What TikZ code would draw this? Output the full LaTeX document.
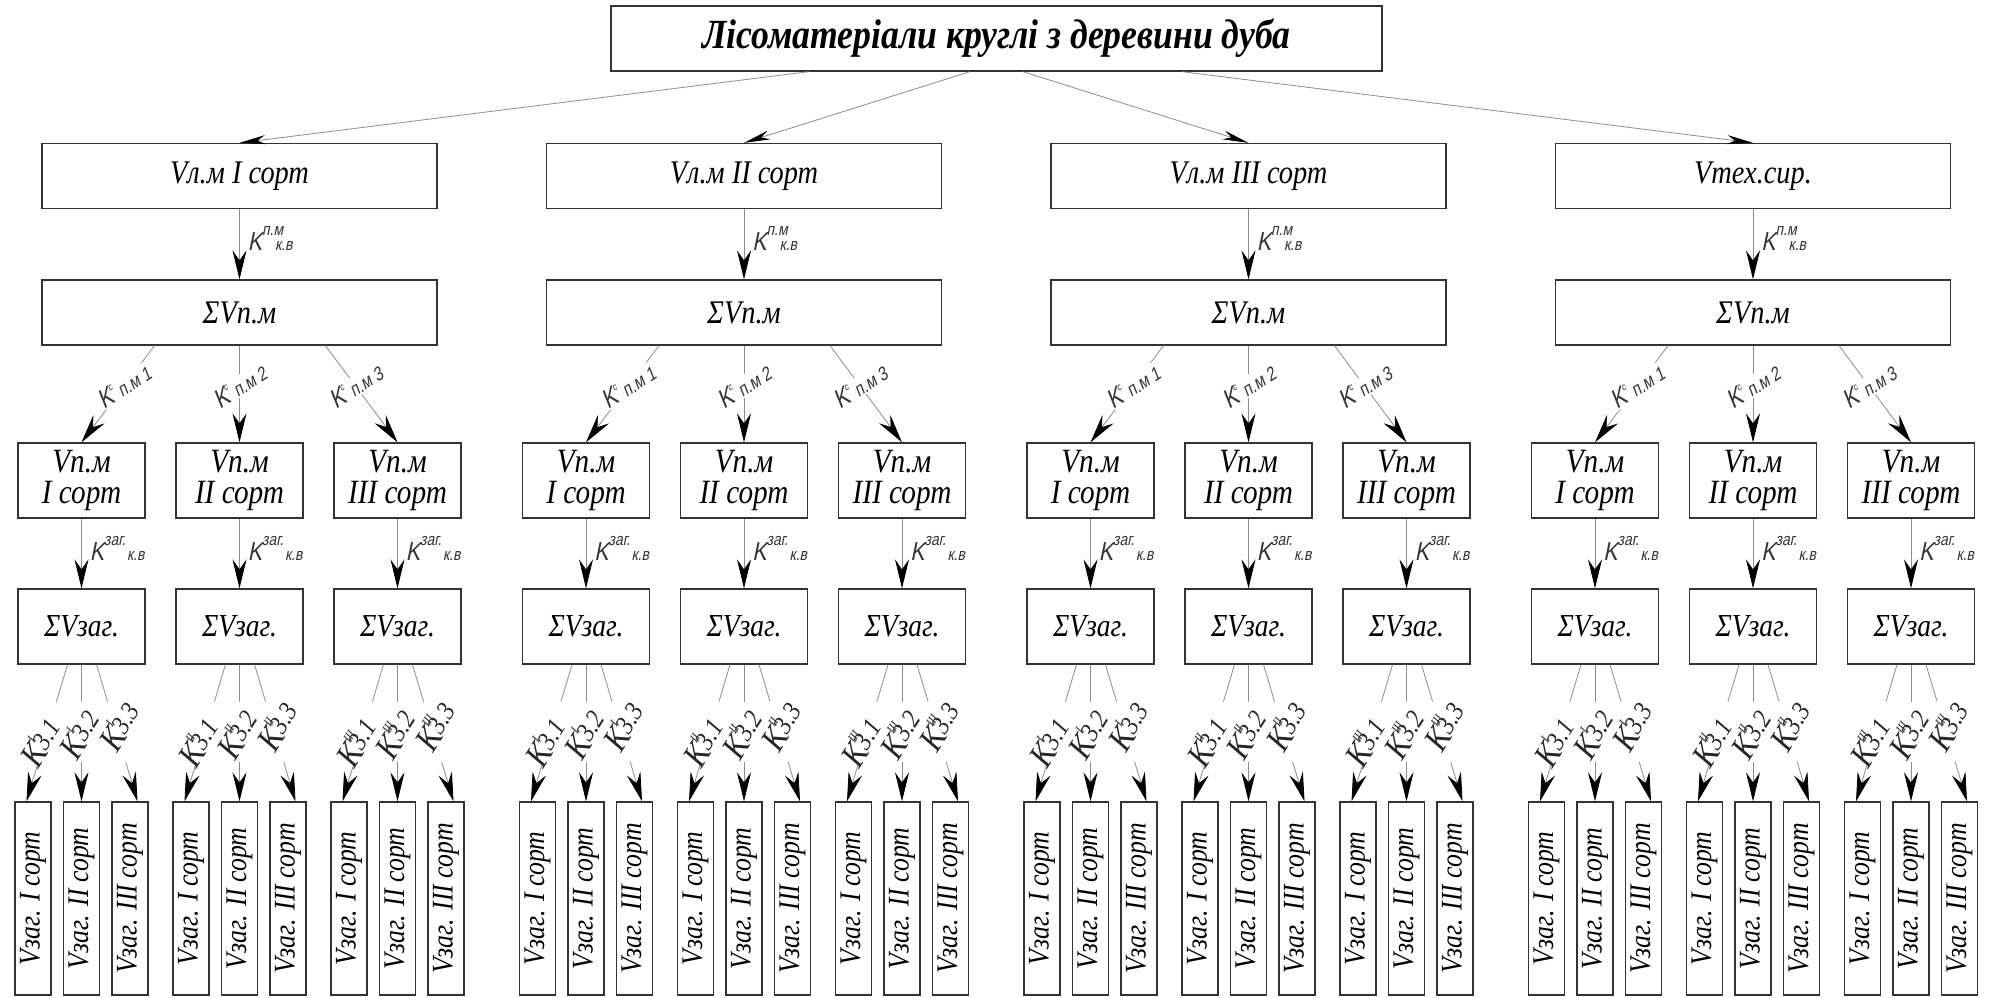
\documentclass[tikz,border=0pt]{standalone}
\usepackage{fontspec}
\usepackage{graphicx}
\setmainfont{Liberation Serif}
\newfontfamily\boxfont[FakeStretch=0.86]{Liberation Serif}
\newfontfamily\gostfont[FakeSlant=0.2,FakeStretch=0.82]{Liberation Sans}
\usetikzlibrary{arrows.meta,calc}

\newcommand\setfs[1]{\fontsize{#1}{#1}\selectfont}
% coefficient K with staggered super- and subscript (sans, drafting style)
\newcommand\KVlab[2]{K\rlap{\raisebox{15pt}{\setfs{17}#1}}\hspace{#2}{\setfs{17}к.в}}
% coefficient K^c for the sort split
\newcommand\KClab[1]{K\raisebox{12pt}{\setfs{10}с}{\setfs{19}\,п.м #1}}
% coefficient K^{roman}_{3.n}
\newcommand\KZlab[2]{K\rlap{\raisebox{18pt}{\setfs{13}#1}}\raisebox{3pt}{\setfs{27}3.#2}}

\tikzset{
  frame/.style={draw=black!80, line width=1.3pt, fill=white, inner sep=0pt, align=center},
  titlebox/.style={frame, minimum width=771, minimum height=65,
    font=\boxfont\bfseries\itshape\setfs{41.5}},
  toplvl/.style={frame, minimum width=395, minimum height=65,
    font=\boxfont\itshape\setfs{33}},
  gradebox/.style={frame, minimum width=127, minimum height=75,
    font=\boxfont\itshape\fontsize{34}{31}\selectfont},
  sumbox/.style={frame, minimum width=127, minimum height=75,
    font=\boxfont\itshape\setfs{32}},
  slim/.style={frame, minimum width=36, minimum height=193,
    font=\boxfont\itshape\setfs{30}},
  wire/.style={draw=black!45, line width=0.8pt},
  arr/.style={wire, -{Stealth[length=29pt,width=14pt,inset=10pt,color=black]}},
  toparr/.style={wire, -{Stealth[length=26pt,width=9pt,inset=8pt,color=black]}},
  klab/.style={font=\gostfont\setfs{26}, text=black!80, inner sep=1pt},
  clab/.style={klab, fill=white, rotate=33},
  zlab/.style={font=\boxfont\itshape\setfs{35}, text=black!85,
    inner sep=0pt, rotate=58},
}

\begin{document}
\begin{tikzpicture}[x=1pt,y=-1pt]
\fill[white] (0,0) rectangle (1999,997);
\useasboundingbox (0,0) rectangle (1999,997);

\node[titlebox] (t) at (996.5,38.5) {Лісоматеріали круглі з деревини дуба};

\foreach \g/\cx/\sx/\txt in {1/239.5/809/{Vл.м I сорт}, 2/744/970/{Vл.м II сорт},
                             3/1248.5/1023/{Vл.м III сорт}, 4/1753/1182/{Vтех.сир.}} {
  \node[toplvl] (a\g) at (\cx,176) {\txt};
  \node[toplvl] (s\g) at (\cx,312.5) {ΣVп.м};
  \draw[toparr] (t.south -| \sx,0) -- (a\g.north);
  \draw[arr] (a\g) -- node[klab, anchor=west, pos=0.42, xshift=7pt] {\KVlab{п.м}{13pt}} (s\g);

  \foreach \k/\dx/\so/\rom in {1/-158/-85/I, 2/0/0/II, 3/158/86/III} {
    \pgfmathsetmacro\px{\cx+\dx}
    \node[gradebox] (p\g\k) at (\px,480.5) {Vп.м\\\rom\ сорт};
    \node[sumbox] (z\g\k) at (\px,626.5) {ΣVзаг.};
    \draw[arr] ($(s\g.south)+(\so,0)$) -- node[clab, pos=0.42] {\KClab{\k}} (p\g\k.north);
    \draw[arr] (p\g\k) -- node[klab, anchor=west, pos=0.42, xshift=7pt] {\KVlab{заг.}{23pt}} (z\g\k);

    \foreach \m/\bo/\st/\tip/\xs/\mr in {1/-48.5/-14/-6.5/-14/I, 2/0/0/0/-4/II, 3/48.5/15/7.5/5/III} {
      \pgfmathsetmacro\bx{\px+\bo}
      \node[slim] (b\g\k\m) at (\bx,898.5) {\rotatebox{90}{Vзаг. \mr\ сорт}};
      % split connector: the coefficient sits in the gap
      \coordinate (u\g\k\m) at ($(z\g\k.south)+(\st,0)$);
      \coordinate (v\g\k\m) at ($(b\g\k\m.north)+(\tip,0)$);
      \draw[wire] (u\g\k\m) -- ($(u\g\k\m)!0.27!(v\g\k\m)$);
      \draw[arr] ($(u\g\k\m)!0.71!(v\g\k\m)$) -- (v\g\k\m);
      \path (u\g\k\m) -- node[zlab, pos=0.48, xshift=\xs pt] {\KZlab{\rom}{\m}} (v\g\k\m);
    }
  }
}
\end{tikzpicture}
\end{document}
